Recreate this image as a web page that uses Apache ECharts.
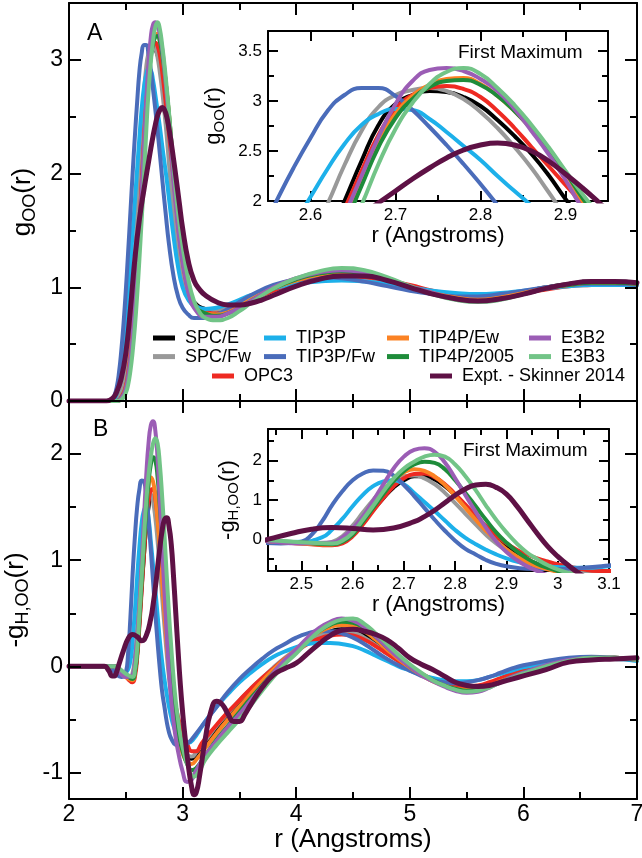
<!DOCTYPE html>
<html>
<head>
<meta charset="utf-8">
<script src="https://cdn.jsdelivr.net/npm/echarts@6/dist/echarts.min.js"></script>
<style>
  html, body { margin: 0; padding: 0; background: #fff; }
  #chart { width: 642px; height: 858px; }
</style>
</head>
<body>
<div id="chart"></div>
<script>
// g_OO(r) — panel A, points [r, g]
const gOO_SPCE = [[2.0,0],[2.4,0],[2.45,0.03],[2.48,0.08],[2.5,0.15],[2.52,0.27],[2.54,0.44],[2.56,0.67],[2.58,0.95],[2.6,1.27],[2.62,1.62],[2.64,2.0],[2.66,2.40],[2.68,2.76],[2.70,2.97],[2.72,3.06],[2.74,3.10],[2.76,3.09],[2.78,3.04],[2.80,2.95],[2.82,2.81],[2.84,2.65],[2.86,2.47],[2.88,2.26],[2.90,2.02],[2.93,1.70],[2.96,1.43],[3.0,1.16],[3.05,0.96],[3.1,0.87],[3.2,0.81],[3.3,0.80],[3.4,0.82],[3.5,0.86],[3.6,0.91],[3.8,1.0],[4.0,1.06],[4.2,1.09],[4.4,1.10],[4.6,1.08],[4.8,1.04],[5.0,0.99],[5.2,0.94],[5.4,0.91],[5.6,0.90],[5.8,0.92],[6.0,0.96],[6.2,1.0],[6.4,1.03],[6.6,1.04],[6.8,1.04],[7.0,1.03]];
const gOO_SPCFw = [[2.0,0],[2.38,0],[2.43,0.03],[2.46,0.08],[2.48,0.15],[2.5,0.27],[2.52,0.44],[2.54,0.67],[2.56,0.95],[2.58,1.27],[2.6,1.62],[2.62,1.97],[2.64,2.36],[2.66,2.70],[2.68,2.94],[2.70,3.06],[2.72,3.11],[2.74,3.13],[2.76,3.10],[2.78,3.02],[2.80,2.89],[2.82,2.73],[2.84,2.54],[2.86,2.33],[2.88,2.09],[2.90,1.85],[2.93,1.55],[2.96,1.30],[3.0,1.06],[3.05,0.91],[3.1,0.84],[3.2,0.80],[3.3,0.80],[3.4,0.83],[3.5,0.87],[3.6,0.92],[3.8,1.0],[4.0,1.06],[4.2,1.09],[4.4,1.10],[4.6,1.08],[4.8,1.04],[5.0,0.99],[5.2,0.95],[5.4,0.92],[5.6,0.91],[5.8,0.93],[6.0,0.96],[6.2,1.0],[6.4,1.02],[6.6,1.03],[6.8,1.03],[7.0,1.02]];
const gOO_OPC3 = [[2.0,0],[2.42,0],[2.47,0.05],[2.5,0.13],[2.52,0.24],[2.54,0.40],[2.56,0.60],[2.58,0.88],[2.6,1.20],[2.62,1.55],[2.64,1.92],[2.66,2.30],[2.68,2.66],[2.70,2.92],[2.72,3.06],[2.74,3.13],[2.76,3.15],[2.78,3.12],[2.80,3.04],[2.82,2.90],[2.84,2.73],[2.86,2.54],[2.88,2.35],[2.90,2.16],[2.92,1.97],[2.95,1.66],[2.98,1.38],[3.02,1.12],[3.06,0.95],[3.1,0.86],[3.2,0.79],[3.3,0.77],[3.4,0.79],[3.5,0.83],[3.6,0.88],[3.8,0.97],[4.0,1.04],[4.2,1.08],[4.4,1.10],[4.6,1.09],[4.8,1.06],[5.0,1.02],[5.2,0.97],[5.4,0.93],[5.6,0.91],[5.8,0.92],[6.0,0.95],[6.2,0.98],[6.4,1.01],[6.6,1.02],[6.8,1.03],[7.0,1.03]];
const gOO_TIP3P = [[2.0,0],[2.37,0],[2.40,0.02],[2.42,0.07],[2.44,0.15],[2.46,0.28],[2.48,0.46],[2.50,0.68],[2.52,0.93],[2.54,1.20],[2.56,1.48],[2.58,1.76],[2.60,2.04],[2.62,2.32],[2.64,2.57],[2.66,2.76],[2.68,2.87],[2.70,2.92],[2.72,2.91],[2.74,2.82],[2.76,2.69],[2.78,2.55],[2.80,2.41],[2.82,2.25],[2.84,2.10],[2.86,1.95],[2.88,1.78],[2.92,1.45],[2.96,1.18],[3.0,1.0],[3.05,0.89],[3.1,0.84],[3.2,0.81],[3.3,0.82],[3.4,0.85],[3.5,0.89],[3.6,0.93],[3.8,0.99],[4.0,1.03],[4.2,1.05],[4.4,1.06],[4.6,1.05],[4.8,1.03],[5.0,1.0],[5.2,0.97],[5.4,0.95],[5.6,0.94],[5.8,0.95],[6.0,0.97],[6.2,0.99],[6.4,1.01],[6.6,1.02],[6.8,1.02],[7.0,1.02]];
const gOO_TIP3PFw = [[2.0,0],[2.35,0],[2.38,0.01],[2.40,0.05],[2.42,0.12],[2.44,0.25],[2.46,0.44],[2.48,0.68],[2.50,0.97],[2.52,1.30],[2.54,1.65],[2.56,2.0],[2.58,2.33],[2.60,2.63],[2.62,2.90],[2.64,3.06],[2.66,3.13],[2.68,3.13],[2.70,3.05],[2.72,2.91],[2.74,2.74],[2.76,2.56],[2.78,2.37],[2.80,2.17],[2.82,1.96],[2.85,1.66],[2.88,1.38],[2.92,1.10],[2.96,0.92],[3.0,0.82],[3.05,0.76],[3.1,0.73],[3.2,0.73],[3.3,0.76],[3.4,0.81],[3.5,0.87],[3.6,0.93],[3.8,1.02],[4.0,1.07],[4.2,1.09],[4.4,1.08],[4.6,1.05],[4.8,1.01],[5.0,0.97],[5.2,0.94],[5.4,0.92],[5.6,0.92],[5.8,0.94],[6.0,0.97],[6.2,1.0],[6.4,1.02],[6.6,1.03],[6.8,1.03],[7.0,1.02]];
const gOO_TIP4PEw = [[2.0,0],[2.42,0],[2.47,0.04],[2.50,0.11],[2.52,0.21],[2.54,0.36],[2.56,0.56],[2.58,0.83],[2.60,1.14],[2.62,1.48],[2.64,1.82],[2.66,2.22],[2.68,2.60],[2.70,2.87],[2.72,3.05],[2.74,3.16],[2.76,3.22],[2.78,3.23],[2.80,3.17],[2.82,3.05],[2.84,2.90],[2.86,2.72],[2.88,2.52],[2.90,2.28],[2.92,2.0],[2.95,1.66],[2.98,1.38],[3.02,1.10],[3.06,0.93],[3.1,0.84],[3.2,0.77],[3.3,0.76],[3.4,0.78],[3.5,0.83],[3.6,0.89],[3.8,0.99],[4.0,1.06],[4.2,1.11],[4.4,1.13],[4.6,1.11],[4.8,1.07],[5.0,1.0],[5.2,0.95],[5.4,0.91],[5.6,0.89],[5.8,0.91],[6.0,0.95],[6.2,0.99],[6.4,1.02],[6.6,1.04],[6.8,1.04],[7.0,1.03]];
const gOO_TIP4P2005 = [[2.0,0],[2.42,0],[2.47,0.04],[2.50,0.10],[2.52,0.20],[2.54,0.34],[2.56,0.53],[2.58,0.79],[2.60,1.09],[2.62,1.42],[2.64,1.76],[2.66,2.15],[2.68,2.54],[2.70,2.83],[2.72,3.02],[2.74,3.14],[2.76,3.20],[2.78,3.21],[2.80,3.16],[2.82,3.05],[2.84,2.90],[2.86,2.72],[2.88,2.52],[2.90,2.29],[2.92,2.03],[2.95,1.70],[2.98,1.41],[3.02,1.12],[3.06,0.94],[3.1,0.84],[3.2,0.77],[3.3,0.75],[3.4,0.77],[3.5,0.82],[3.6,0.88],[3.8,0.99],[4.0,1.07],[4.2,1.12],[4.4,1.14],[4.6,1.12],[4.8,1.07],[5.0,1.0],[5.2,0.94],[5.4,0.90],[5.6,0.88],[5.8,0.90],[6.0,0.94],[6.2,0.99],[6.4,1.02],[6.6,1.04],[6.8,1.04],[7.0,1.03]];
const gOO_E3B2 = [[2.0,0],[2.42,0],[2.47,0.04],[2.50,0.11],[2.52,0.21],[2.54,0.36],[2.56,0.57],[2.58,0.84],[2.60,1.15],[2.62,1.50],[2.64,1.86],[2.66,2.25],[2.68,2.64],[2.70,2.97],[2.72,3.20],[2.74,3.31],[2.76,3.33],[2.78,3.30],[2.80,3.22],[2.82,3.10],[2.84,2.92],[2.86,2.70],[2.88,2.47],[2.90,2.21],[2.92,1.93],[2.95,1.62],[2.98,1.36],[3.02,1.10],[3.06,0.92],[3.1,0.82],[3.2,0.74],[3.3,0.74],[3.4,0.77],[3.5,0.82],[3.6,0.88],[3.8,1.0],[4.0,1.08],[4.2,1.13],[4.4,1.15],[4.6,1.13],[4.8,1.08],[5.0,1.01],[5.2,0.95],[5.4,0.90],[5.6,0.88],[5.8,0.90],[6.0,0.94],[6.2,0.99],[6.4,1.03],[6.6,1.05],[6.8,1.05],[7.0,1.04]];
const gOO_E3B3 = [[2.0,0],[2.43,0],[2.47,0.02],[2.50,0.07],[2.52,0.14],[2.54,0.26],[2.56,0.43],[2.58,0.65],[2.60,0.93],[2.62,1.25],[2.64,1.60],[2.66,1.96],[2.68,2.37],[2.70,2.72],[2.72,2.98],[2.74,3.17],[2.76,3.29],[2.78,3.33],[2.80,3.27],[2.82,3.13],[2.84,2.96],[2.86,2.76],[2.88,2.54],[2.90,2.30],[2.93,1.96],[2.96,1.66],[3.0,1.36],[3.05,1.07],[3.1,0.88],[3.15,0.78],[3.2,0.73],[3.3,0.71],[3.4,0.73],[3.5,0.79],[3.6,0.86],[3.8,0.99],[4.0,1.08],[4.2,1.14],[4.4,1.17],[4.6,1.15],[4.8,1.09],[5.0,1.01],[5.2,0.94],[5.4,0.89],[5.6,0.87],[5.8,0.89],[6.0,0.94],[6.2,0.99],[6.4,1.03],[6.6,1.05],[6.8,1.05],[7.0,1.04]];
const gOO_Expt = [[2.0,0],[2.33,0],[2.38,0.02],[2.42,0.08],[2.46,0.20],[2.50,0.42],[2.54,0.80],[2.58,1.25],[2.62,1.60],[2.66,1.86],[2.70,2.10],[2.72,2.22],[2.74,2.33],[2.76,2.43],[2.78,2.51],[2.80,2.56],[2.82,2.58],[2.84,2.56],[2.86,2.50],[2.88,2.40],[2.90,2.27],[2.92,2.13],[2.94,1.98],[2.97,1.75],[3.0,1.52],[3.05,1.23],[3.1,1.06],[3.15,0.98],[3.2,0.93],[3.3,0.87],[3.4,0.845],[3.5,0.845],[3.6,0.86],[3.7,0.89],[3.8,0.93],[4.0,1.01],[4.2,1.07],[4.4,1.10],[4.6,1.10],[4.8,1.06],[5.0,1.0],[5.2,0.94],[5.4,0.90],[5.6,0.88],[5.8,0.90],[6.0,0.94],[6.2,0.99],[6.4,1.03],[6.6,1.05],[6.8,1.05],[7.0,1.04]];

// -g_H,OO(r) — panel B, points [r, value]
const hOO_SPCE = [[2.0,0],[2.38,0],[2.44,-0.05],[2.50,-0.08],[2.56,-0.12],[2.58,-0.06],[2.60,0.12],[2.62,0.42],[2.64,0.75],[2.66,1.05],[2.68,1.32],[2.70,1.50],[2.72,1.60],[2.74,1.60],[2.76,1.52],[2.78,1.35],[2.80,1.12],[2.82,0.85],[2.84,0.55],[2.86,0.28],[2.88,0.03],[2.90,-0.18],[2.92,-0.35],[2.94,-0.50],[2.96,-0.62],[2.98,-0.72],[3.0,-0.80],[3.04,-0.86],[3.08,-0.87],[3.12,-0.83],[3.2,-0.72],[3.3,-0.58],[3.4,-0.46],[3.5,-0.34],[3.6,-0.23],[3.7,-0.12],[3.8,-0.02],[3.9,0.07],[4.0,0.15],[4.1,0.23],[4.2,0.29],[4.3,0.33],[4.4,0.35],[4.5,0.34],[4.6,0.29],[4.7,0.22],[4.8,0.14],[4.9,0.06],[5.0,-0.01],[5.1,-0.08],[5.2,-0.13],[5.3,-0.17],[5.4,-0.20],[5.5,-0.21],[5.6,-0.20],[5.7,-0.17],[5.8,-0.13],[5.9,-0.09],[6.0,-0.05],[6.2,0.01],[6.4,0.05],[6.6,0.07],[6.8,0.08],[7.0,0.06]];
const hOO_SPCFw = [[2.0,0],[2.38,0],[2.44,-0.05],[2.50,-0.08],[2.54,-0.10],[2.56,-0.06],[2.58,0.08],[2.60,0.35],[2.62,0.68],[2.64,1.00],[2.66,1.28],[2.68,1.48],[2.70,1.60],[2.72,1.62],[2.74,1.55],[2.76,1.40],[2.78,1.18],[2.80,0.92],[2.82,0.65],[2.84,0.38],[2.86,0.12],[2.88,-0.10],[2.90,-0.28],[2.92,-0.43],[2.94,-0.55],[2.96,-0.65],[3.0,-0.78],[3.04,-0.84],[3.08,-0.85],[3.12,-0.81],[3.2,-0.70],[3.3,-0.56],[3.4,-0.44],[3.5,-0.32],[3.6,-0.21],[3.7,-0.11],[3.8,-0.01],[3.9,0.08],[4.0,0.16],[4.1,0.23],[4.2,0.29],[4.3,0.32],[4.4,0.33],[4.5,0.32],[4.6,0.27],[4.7,0.20],[4.8,0.12],[4.9,0.05],[5.0,-0.02],[5.1,-0.08],[5.2,-0.13],[5.3,-0.17],[5.4,-0.19],[5.5,-0.20],[5.6,-0.19],[5.7,-0.16],[5.8,-0.12],[5.9,-0.08],[6.0,-0.05],[6.2,0.01],[6.4,0.05],[6.6,0.07],[6.8,0.07],[7.0,0.06]];
const hOO_OPC3 = [[2.0,0],[2.40,0],[2.44,-0.05],[2.50,-0.10],[2.56,-0.15],[2.58,-0.10],[2.60,0.08],[2.62,0.38],[2.64,0.72],[2.66,1.05],[2.68,1.35],[2.70,1.55],[2.72,1.66],[2.74,1.67],[2.76,1.58],[2.78,1.40],[2.80,1.15],[2.82,0.88],[2.84,0.60],[2.86,0.34],[2.88,0.10],[2.90,-0.10],[2.92,-0.26],[2.94,-0.38],[2.96,-0.48],[2.98,-0.56],[3.0,-0.63],[3.04,-0.73],[3.08,-0.80],[3.12,-0.80],[3.16,-0.74],[3.2,-0.68],[3.3,-0.55],[3.4,-0.43],[3.5,-0.32],[3.6,-0.21],[3.7,-0.11],[3.8,-0.02],[3.9,0.07],[4.0,0.14],[4.1,0.21],[4.2,0.26],[4.3,0.29],[4.4,0.30],[4.5,0.29],[4.6,0.25],[4.7,0.19],[4.8,0.12],[4.9,0.05],[5.0,-0.01],[5.1,-0.07],[5.2,-0.12],[5.3,-0.16],[5.4,-0.18],[5.5,-0.19],[5.6,-0.18],[5.7,-0.15],[5.8,-0.11],[5.9,-0.07],[6.0,-0.04],[6.2,0.02],[6.4,0.05],[6.6,0.07],[6.8,0.07],[7.0,0.06]];
const hOO_TIP3P = [[2.0,0],[2.36,0],[2.40,-0.04],[2.44,-0.08],[2.50,-0.06],[2.54,0.05],[2.56,0.25],[2.58,0.52],[2.60,0.84],[2.62,1.13],[2.64,1.35],[2.66,1.47],[2.68,1.50],[2.70,1.40],[2.72,1.18],[2.74,0.95],[2.76,0.72],[2.78,0.48],[2.80,0.24],[2.82,0.04],[2.84,-0.12],[2.86,-0.26],[2.88,-0.38],[2.90,-0.48],[2.92,-0.56],[2.96,-0.66],[3.0,-0.70],[3.05,-0.72],[3.1,-0.68],[3.15,-0.60],[3.2,-0.52],[3.3,-0.38],[3.4,-0.26],[3.5,-0.15],[3.6,-0.06],[3.7,0.02],[3.8,0.09],[3.9,0.14],[4.0,0.18],[4.1,0.21],[4.2,0.22],[4.3,0.22],[4.4,0.21],[4.5,0.19],[4.6,0.15],[4.7,0.10],[4.8,0.05],[4.9,0.0],[5.0,-0.04],[5.1,-0.08],[5.2,-0.11],[5.3,-0.13],[5.4,-0.14],[5.5,-0.14],[5.6,-0.13],[5.7,-0.10],[5.8,-0.07],[5.9,-0.04],[6.0,-0.01],[6.2,0.03],[6.4,0.06],[6.6,0.07],[6.8,0.07],[7.0,0.05]];
const hOO_TIP3PFw = [[2.0,0],[2.34,0],[2.38,-0.03],[2.42,-0.08],[2.46,-0.10],[2.50,-0.06],[2.52,0.12],[2.54,0.45],[2.56,0.87],[2.58,1.22],[2.60,1.50],[2.62,1.67],[2.64,1.75],[2.66,1.74],[2.68,1.62],[2.70,1.38],[2.72,1.10],[2.74,0.80],[2.76,0.50],[2.78,0.22],[2.80,-0.03],[2.82,-0.24],[2.84,-0.38],[2.86,-0.52],[2.88,-0.62],[2.90,-0.68],[2.94,-0.74],[3.0,-0.75],[3.05,-0.72],[3.1,-0.66],[3.2,-0.52],[3.3,-0.38],[3.4,-0.24],[3.5,-0.12],[3.6,-0.02],[3.7,0.07],[3.8,0.15],[3.9,0.21],[4.0,0.27],[4.1,0.31],[4.2,0.33],[4.3,0.33],[4.4,0.31],[4.5,0.27],[4.6,0.21],[4.7,0.14],[4.8,0.07],[4.9,0.01],[5.0,-0.04],[5.1,-0.09],[5.2,-0.13],[5.3,-0.15],[5.4,-0.16],[5.5,-0.15],[5.6,-0.13],[5.7,-0.10],[5.8,-0.06],[5.9,-0.02],[6.0,0.01],[6.2,0.05],[6.4,0.08],[6.6,0.09],[6.8,0.08],[7.0,0.06]];
const hOO_TIP4PEw = [[2.0,0],[2.40,0],[2.44,-0.05],[2.50,-0.10],[2.56,-0.13],[2.58,-0.05],[2.60,0.15],[2.62,0.48],[2.64,0.85],[2.66,1.20],[2.68,1.50],[2.70,1.70],[2.72,1.78],[2.74,1.74],[2.76,1.60],[2.78,1.38],[2.80,1.10],[2.82,0.80],[2.84,0.50],[2.86,0.22],[2.88,-0.03],[2.90,-0.25],[2.92,-0.43],[2.94,-0.57],[2.96,-0.68],[3.0,-0.82],[3.04,-0.90],[3.08,-0.92],[3.12,-0.88],[3.2,-0.77],[3.3,-0.63],[3.4,-0.50],[3.5,-0.38],[3.6,-0.26],[3.7,-0.14],[3.8,-0.03],[3.9,0.07],[4.0,0.16],[4.1,0.25],[4.2,0.32],[4.3,0.37],[4.4,0.39],[4.5,0.38],[4.6,0.33],[4.7,0.25],[4.8,0.16],[4.9,0.07],[5.0,-0.01],[5.1,-0.08],[5.2,-0.14],[5.3,-0.18],[5.4,-0.21],[5.5,-0.22],[5.6,-0.21],[5.7,-0.18],[5.8,-0.14],[5.9,-0.10],[6.0,-0.06],[6.2,0.0],[6.4,0.05],[6.6,0.07],[6.8,0.08],[7.0,0.06]];
const hOO_TIP4P2005 = [[2.0,0],[2.40,0],[2.44,-0.03],[2.50,-0.08],[2.56,-0.12],[2.58,-0.06],[2.60,0.12],[2.62,0.45],[2.64,0.80],[2.66,1.15],[2.68,1.48],[2.70,1.73],[2.72,1.90],[2.74,1.97],[2.76,1.94],[2.78,1.78],[2.80,1.50],[2.82,1.18],[2.84,0.84],[2.86,0.50],[2.88,0.18],[2.90,-0.08],[2.92,-0.30],[2.94,-0.48],[2.96,-0.62],[2.98,-0.72],[3.0,-0.80],[3.04,-0.92],[3.08,-0.98],[3.12,-0.96],[3.2,-0.84],[3.3,-0.69],[3.4,-0.56],[3.5,-0.43],[3.6,-0.30],[3.7,-0.18],[3.8,-0.06],[3.9,0.05],[4.0,0.15],[4.1,0.25],[4.2,0.33],[4.3,0.39],[4.4,0.42],[4.5,0.41],[4.6,0.36],[4.7,0.28],[4.8,0.18],[4.9,0.09],[5.0,0.0],[5.1,-0.07],[5.2,-0.13],[5.3,-0.18],[5.4,-0.21],[5.5,-0.23],[5.6,-0.22],[5.7,-0.19],[5.8,-0.15],[5.9,-0.10],[6.0,-0.06],[6.2,0.0],[6.4,0.05],[6.6,0.08],[6.8,0.08],[7.0,0.06]];
const hOO_E3B2 = [[2.0,0],[2.40,0],[2.44,-0.05],[2.50,-0.10],[2.56,-0.08],[2.58,0.05],[2.60,0.28],[2.62,0.58],[2.64,0.98],[2.66,1.40],[2.68,1.80],[2.70,2.10],[2.72,2.27],[2.74,2.31],[2.76,2.22],[2.78,1.95],[2.80,1.55],[2.82,1.12],[2.84,0.70],[2.86,0.30],[2.88,-0.05],[2.90,-0.32],[2.92,-0.52],[2.94,-0.68],[2.96,-0.80],[3.0,-0.99],[3.04,-1.09],[3.08,-1.07],[3.12,-0.98],[3.2,-0.84],[3.3,-0.70],[3.4,-0.57],[3.5,-0.45],[3.6,-0.32],[3.7,-0.19],[3.8,-0.06],[3.9,0.06],[4.0,0.16],[4.1,0.27],[4.2,0.36],[4.3,0.42],[4.4,0.45],[4.5,0.43],[4.6,0.37],[4.7,0.28],[4.8,0.18],[4.9,0.08],[5.0,0.0],[5.1,-0.08],[5.2,-0.14],[5.3,-0.19],[5.4,-0.23],[5.5,-0.25],[5.6,-0.24],[5.7,-0.20],[5.8,-0.15],[5.9,-0.10],[6.0,-0.06],[6.2,0.01],[6.4,0.06],[6.6,0.08],[6.8,0.08],[7.0,0.06]];
const hOO_E3B3 = [[2.0,0],[2.40,0],[2.44,-0.02],[2.50,-0.07],[2.56,-0.10],[2.58,-0.03],[2.60,0.17],[2.62,0.50],[2.64,0.85],[2.66,1.22],[2.68,1.55],[2.70,1.80],[2.72,1.97],[2.74,2.10],[2.76,2.15],[2.78,2.10],[2.80,1.90],[2.82,1.60],[2.84,1.25],[2.86,0.86],[2.88,0.50],[2.90,0.18],[2.92,-0.10],[2.94,-0.33],[2.96,-0.50],[2.98,-0.65],[3.0,-0.76],[3.05,-0.95],[3.1,-1.04],[3.15,-0.98],[3.2,-0.88],[3.3,-0.74],[3.4,-0.62],[3.5,-0.50],[3.6,-0.37],[3.7,-0.23],[3.8,-0.10],[3.9,0.02],[4.0,0.12],[4.1,0.23],[4.2,0.33],[4.3,0.40],[4.4,0.44],[4.5,0.45],[4.6,0.40],[4.7,0.31],[4.8,0.21],[4.9,0.11],[5.0,0.02],[5.1,-0.06],[5.2,-0.13],[5.3,-0.18],[5.4,-0.22],[5.5,-0.24],[5.6,-0.23],[5.7,-0.20],[5.8,-0.15],[5.9,-0.11],[6.0,-0.07],[6.2,0.0],[6.4,0.05],[6.6,0.08],[6.8,0.08],[7.0,0.06]];
const hOO_Expt = [[2.0,0],[2.31,0],[2.35,-0.04],[2.38,-0.09],[2.40,-0.09],[2.42,-0.05],[2.44,0.02],[2.48,0.15],[2.52,0.26],[2.56,0.30],[2.60,0.28],[2.64,0.24],[2.68,0.29],[2.72,0.45],[2.74,0.58],[2.76,0.74],[2.78,0.93],[2.80,1.12],[2.82,1.28],[2.84,1.38],[2.86,1.40],[2.88,1.32],[2.90,1.15],[2.92,0.85],[2.94,0.50],[2.96,0.15],[2.98,-0.17],[3.0,-0.43],[3.02,-0.65],[3.05,-0.93],[3.08,-1.14],[3.10,-1.21],[3.12,-1.19],[3.15,-1.03],[3.2,-0.68],[3.25,-0.42],[3.3,-0.33],[3.35,-0.36],[3.4,-0.45],[3.45,-0.52],[3.5,-0.52],[3.55,-0.45],[3.6,-0.36],[3.7,-0.20],[3.8,-0.08],[3.9,-0.02],[4.0,0.03],[4.1,0.12],[4.2,0.21],[4.3,0.29],[4.4,0.34],[4.5,0.35],[4.6,0.33],[4.7,0.30],[4.8,0.25],[4.9,0.17],[5.0,0.08],[5.1,0.02],[5.2,-0.03],[5.3,-0.09],[5.4,-0.15],[5.5,-0.18],[5.6,-0.19],[5.7,-0.18],[5.8,-0.15],[5.9,-0.12],[6.0,-0.09],[6.2,-0.03],[6.4,0.04],[6.6,0.06],[6.8,0.07],[7.0,0.08]];

// tick positions
const mainXMajor = [2, 3, 4, 5, 6, 7];
const mainXMinor = [2.5, 3.5, 4.5, 5.5, 6.5];
const aYMajor = [0, 1, 2, 3];
const aYMinor = [0.5, 1.5, 2.5];
const bYMajor = [-1, 0, 1, 2];
const bYMinor = [-0.5, 0.5, 1.5];
const insAXMajor = [2.6, 2.7, 2.8, 2.9];
const insAXMinor = [2.65, 2.75, 2.85];
const insAYMajor = [2, 2.5, 3, 3.5];
const insAYMinor = [2.25, 2.75, 3.25];
const insBXMajor = [2.5, 2.6, 2.7, 2.8, 2.9, 3.0, 3.1];
const insBXMinor = [2.45, 2.55, 2.65, 2.75, 2.85, 2.95, 3.05];
const insBYMajor = [0, 1, 2];
const insBYMinor = [-0.5, 0.5, 1.5, 2.5];

const models = [
  { name: 'SPC/E', color: '#000000', g: gOO_SPCE, h: hOO_SPCE, w: 4 },
  { name: 'SPC/Fw', color: '#999999', g: gOO_SPCFw, h: hOO_SPCFw, w: 4 },
  { name: 'OPC3', color: '#ee2a22', g: gOO_OPC3, h: hOO_OPC3, w: 4 },
  { name: 'TIP3P', color: '#1db0ea', g: gOO_TIP3P, h: hOO_TIP3P, w: 4 },
  { name: 'TIP3P/Fw', color: '#4a6cba', g: gOO_TIP3PFw, h: hOO_TIP3PFw, w: 4 },
  { name: 'TIP4P/Ew', color: '#fb8224', g: gOO_TIP4PEw, h: hOO_TIP4PEw, w: 4 },
  { name: 'TIP4P/2005', color: '#1e8c3a', g: gOO_TIP4P2005, h: hOO_TIP4P2005, w: 4 },
  { name: 'E3B2', color: '#9b5db5', g: gOO_E3B2, h: hOO_E3B2, w: 4 },
  { name: 'E3B3', color: '#72c487', g: gOO_E3B3, h: hOO_E3B3, w: 4 },
  { name: 'Expt. - Skinner 2014', color: '#5e1145', g: gOO_Expt, h: hOO_Expt, w: 5 }
];

const FONT = 'Liberation Sans';
const fmt = v => String(+(+v).toFixed(2));

// one grid gets 4 x axes and 4 y axes: main/mirror side, each with major and minor ticks
function axes(grid, dim, o) {
  const near = dim === 'x' ? 'bottom' : 'left';
  const far = dim === 'x' ? 'top' : 'right';
  const base = { gridIndex: grid, type: 'value', min: o.min, max: o.max, splitLine: { show: false }, z: o.z };
  const line = { show: true, onZero: false, lineStyle: { color: '#000', width: 2 } };
  const noLine = { show: false, onZero: false };
  const tick = (vals, len) => ({ show: true, inside: true, length: len, customValues: vals, lineStyle: { color: '#000', width: 2 } });
  const first = Object.assign({}, base, {
    position: near, axisLine: line, axisTick: tick(o.major, o.majorLen),
    axisLabel: o.labels ? { show: true, customValues: o.labels, formatter: fmt, fontSize: o.fontSize, fontFamily: FONT, color: '#000', margin: o.margin } : { show: false }
  });
  if (o.name) {
    Object.assign(first, { name: o.name, nameLocation: 'middle', nameGap: o.nameGap, nameTextStyle: o.nameStyle });
  }
  return [
    first,
    Object.assign({}, base, { position: near, axisLine: noLine, axisTick: tick(o.minor, o.minorLen), axisLabel: { show: false } }),
    Object.assign({}, base, { position: far, axisLine: line, axisTick: tick(o.major, o.majorLen), axisLabel: { show: false } }),
    Object.assign({}, base, { position: far, axisLine: noLine, axisTick: tick(o.minor, o.minorLen), axisLabel: { show: false } })
  ];
}

function subName(size, sub, shift) {
  return { fontFamily: FONT, fontSize: size, color: '#000',
    rich: { a: { fontFamily: FONT, fontSize: size, color: '#000' },
            b: { fontFamily: FONT, fontSize: sub, color: '#000', padding: [shift, 0, 0, 0] } } };
}

const xAxis = [].concat(
  axes(0, 'x', { min: 2, max: 7, major: mainXMajor, minor: mainXMinor, majorLen: 12, minorLen: 7, z: 3 }),
  axes(1, 'x', { min: 2, max: 7, major: mainXMajor, minor: mainXMinor, majorLen: 12, minorLen: 7, z: 3,
    labels: mainXMajor, fontSize: 23, margin: 4, name: 'r (Angstroms)', nameGap: 27,
    nameStyle: { fontFamily: FONT, fontSize: 26, color: '#000' } }),
  axes(2, 'x', { min: 2.55, max: 2.95, major: insAXMajor, minor: insAXMinor, majorLen: 10, minorLen: 6, z: 6,
    labels: insAXMajor, fontSize: 17, margin: 6, name: 'r (Angstroms)', nameGap: 22,
    nameStyle: { fontFamily: FONT, fontSize: 22, color: '#000' } }),
  axes(3, 'x', { min: 2.435, max: 3.1, major: insBXMajor, minor: insBXMinor, majorLen: 10, minorLen: 6, z: 6,
    labels: insBXMajor, fontSize: 17, margin: 5, name: 'r (Angstroms)', nameGap: 21,
    nameStyle: { fontFamily: FONT, fontSize: 22, color: '#000' } })
);

const yAxis = [].concat(
  axes(0, 'y', { min: 0, max: 3.5, major: aYMajor, minor: aYMinor, majorLen: 12, minorLen: 7, z: 3,
    labels: aYMajor, fontSize: 23, margin: 6, name: '{a|g}{b|OO}{a|(r)}', nameGap: 26, nameStyle: subName(26, 18, 14) }),
  axes(1, 'y', { min: -1.25, max: 2.5, major: bYMajor, minor: bYMinor, majorLen: 12, minorLen: 7, z: 3,
    labels: bYMajor, fontSize: 23, margin: 6, name: '{a|-g}{b|H,OO}{a|(r)}', nameGap: 33, nameStyle: subName(26, 18, 14) }),
  axes(2, 'y', { min: 2, max: 3.7, major: insAYMajor, minor: insAYMinor, majorLen: 10, minorLen: 6, z: 6,
    labels: insAYMajor, fontSize: 17, margin: 6, name: '{a|g}{b|OO}{a|(r)}', nameGap: 38, nameStyle: subName(22, 15, 12) }),
  axes(3, 'y', { min: -0.8, max: 2.8, major: insBYMajor, minor: insBYMinor, majorLen: 10, minorLen: 6, z: 6,
    labels: insBYMajor, fontSize: 17, margin: 6, name: '{a|-g}{b|H,OO}{a|(r)}', nameGap: 22, nameStyle: subName(22, 15, 12) })
);

const series = [];
models.forEach(m => {
  [[0, m.g], [1, m.h], [2, m.g], [3, m.h]].forEach(([gi, d]) => {
    series.push({
      name: m.name, type: 'line', data: d,
      xAxisIndex: gi * 4, yAxisIndex: gi * 4,
      smooth: 0.5, symbol: 'none', showSymbol: false, clip: true,
      color: m.color, itemStyle: { color: m.color },
      lineStyle: { color: m.color, width: m.w, join: 'round', cap: 'round' },
      z: gi >= 2 ? 7 : 2, silent: true
    });
  });
});

const legendBase = {
  orient: 'vertical', icon: 'rect', itemWidth: 22, itemHeight: 5, itemGap: 0.6, padding: 0,
  selectedMode: false,
  textStyle: { fontFamily: FONT, fontSize: 18, color: '#000', lineHeight: 16, padding: [0, 0, 0, 5] }
};
const legend = [
  Object.assign({}, legendBase, { data: ['SPC/E', 'SPC/Fw'], left: 153, top: 329 }),
  Object.assign({}, legendBase, { data: ['TIP3P', 'TIP3P/Fw'], left: 264, top: 329 }),
  Object.assign({}, legendBase, { data: ['TIP4P/Ew', 'TIP4P/2005'], left: 387, top: 329 }),
  Object.assign({}, legendBase, { data: ['E3B2', 'E3B3'], left: 529, top: 329 }),
  Object.assign({}, legendBase, { data: ['OPC3'], left: 212, top: 367 }),
  Object.assign({}, legendBase, { data: ['Expt. - Skinner 2014'], left: 430, top: 367 })
];

const txt = (x, y, text, size) => ({
  type: 'text', x: x, y: y, z: 20, silent: true,
  style: { text: text, fontFamily: FONT, fontSize: size, fill: '#000', textAlign: 'left', textVerticalAlign: 'middle' }
});

const chart = echarts.init(document.getElementById('chart'), null, { renderer: 'canvas' });
chart.setOption({
  animation: false,
  backgroundColor: '#fff',
  grid: [
    { left: 69, top: 3, width: 568, height: 398, outerBoundsMode: 'none' },
    { left: 69, top: 401, width: 568, height: 398, outerBoundsMode: 'none' },
    { left: 268, top: 31, width: 340, height: 170, show: true, backgroundColor: '#fff', borderWidth: 0, z: 5, outerBoundsMode: 'none' },
    { left: 268, top: 429, width: 341, height: 142, show: true, backgroundColor: '#fff', borderWidth: 0, z: 5, outerBoundsMode: 'none' }
  ],
  xAxis: xAxis,
  yAxis: yAxis,
  legend: legend,
  series: series,
  graphic: [
    txt(87, 34, 'A', 23),
    txt(93, 430, 'B', 23),
    txt(458, 53, 'First Maximum', 19),
    txt(463, 451, 'First Maximum', 19)
  ]
});
</script>
</body>
</html>
